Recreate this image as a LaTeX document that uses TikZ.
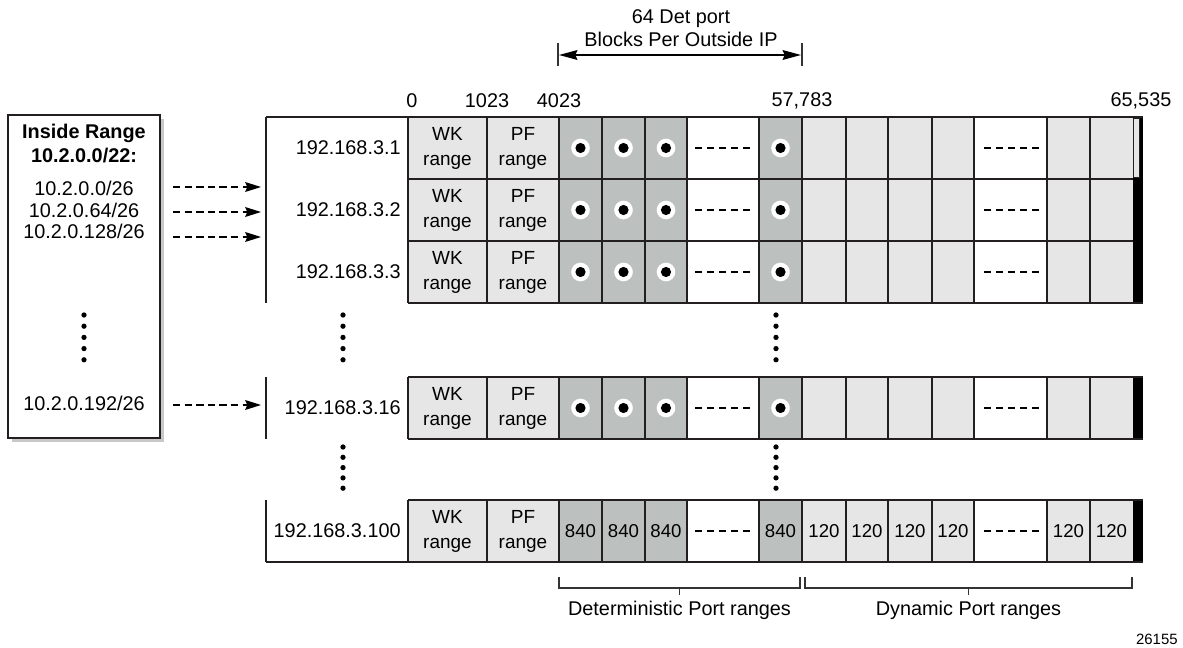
\documentclass[tikz,border=0pt]{standalone}
\usepackage{fontspec}
\setmainfont{Liberation Sans}
\usetikzlibrary{arrows.meta,positioning}

\begin{document}
\begin{tikzpicture}[
    x=0.02cm, y=-0.02cm,
    every node/.style={font=\fontsize{11.3}{13}\selectfont, inner sep=0pt},
    celltext/.style={align=center, font=\fontsize{10.8}{14.2}\selectfont},
    numtext/.style={font=\fontsize{10.6}{12}\selectfont},
    maparrow/.style={line width=0.75pt, dash pattern=on 4.2pt off 2.4pt, -{Stealth[length=9pt, width=5.6pt, inset=1.2pt]}},
    spanarrow/.style={line width=0.7pt, {Stealth[length=10.5pt, width=5.6pt, inset=1.2pt]}-{Stealth[length=10.5pt, width=5.6pt, inset=1.2pt]}},
    dashrun/.style={line width=1.5pt, dash pattern=on 4pt off 2.85pt},
    endtick/.style={line width=0.6pt, black!80},
    rimline/.style={gridline, line width=1.5pt},
  ]
    \pgfmathsetmacro{\rowh}{62}
    \definecolor{lightcell}{HTML}{E6E6E6}
    \definecolor{detcell}{HTML}{BCC1BF}
    \definecolor{gridline}{HTML}{231F20}
    \definecolor{shadowgray}{HTML}{C8C8C8}

    \useasboundingbox (0,0) rectangle (1183,648);

    % one row of the port table: #1 = top y, #2 = row tag, #3 = outside IP
    \newcommand{\portrow}[3]{%
      \foreach \xa/\xb/\col in {408/487/lightcell, 487/559/lightcell, 559/602/detcell, 602/645/detcell, 645/687/detcell, 687/759/white, 759/802/detcell, 802/846/lightcell, 846/888/lightcell, 888/932/lightcell, 932/974/lightcell, 974/1047/white, 1047/1090/lightcell, 1090/1133/lightcell} {
        \fill[\col] (\xa,#1) rectangle (\xb,#1+\rowh);
        \draw[gridline, line width=0.75pt] (\xa,#1) -- (\xa,#1+\rowh);
      }
      \fill[black] (1133,#1) rectangle (1143,#1+\rowh);
      \node[anchor=east] (ip#2) at (401,#1+\rowh/2) {#3};
      \node[celltext] (wk#2) at (447.5,#1+\rowh/2) {WK\\range};
      \node[celltext] (pf#2) at (523,#1+\rowh/2) {PF\\range};
      \draw[dashrun] (695,#1+\rowh/2) -- (751,#1+\rowh/2);
      \draw[dashrun] (984,#1+\rowh/2) -- (1040,#1+\rowh/2);
    }
    % marked deterministic blocks: #1 = row centre y
    \newcommand{\detdots}[1]{%
      \foreach \xc in {580.5, 623.5, 666, 780.5} {
        \fill[white] (\xc,#1) circle (5.3pt);
        \fill[black] (\xc,#1) circle (2.9pt);
      }
    }

    % -------- inside range box --------
    \fill[shadowgray] (12,119) rectangle (164,442);
    \draw[gridline, fill=white, line width=1.2pt] (8,115) rectangle (160,438);
    \node[font=\bfseries\fontsize{11.3}{13}\selectfont] (intitle) at (84,133) {Inside Range};
    \node[font=\bfseries\fontsize{11.3}{13}\selectfont] (inrange) at (84,156) {10.2.0.0/22:};
    \node (sub0) at (84,188) {10.2.0.0/26};
    \node (sub64) at (84,210) {10.2.0.64/26};
    \node (sub128) at (84,231) {10.2.0.128/26};
    \node (sub192) at (84,403) {10.2.0.192/26};

    % mapping arrows
    \foreach \nm/\yy in {a/187, b/212, c/237, d/405} {
      \coordinate (from\nm) at (173,\yy);
      \coordinate (to\nm) at (261,\yy);
      \draw[maparrow] (from\nm) -- (to\nm);
    }

    % -------- port numbers and block span --------
    \node (p0) at (412,101) {0};
    \node (p1023) at (487,101) {1023};
    \node (p4023) at (559,101) {4023};
    \node (p57783) at (802,101) {57,783};
    \node (p65535) at (1141,101) {65,535};

    \draw[endtick] (558,43) -- (558,66);
    \draw[endtick] (802,43) -- (802,66);
    \coordinate (spanL) at (559,55);
    \coordinate (spanR) at (801,55);
    \draw[spanarrow] (spanL) -- (spanR);
    \node[align=center] (spanlabel) at (681,28.5) {64 Det port\\Blocks Per Outside IP};

    % -------- rows 192.168.3.1 to 192.168.3.3 --------
    \portrow{117}{r1}{192.168.3.1}
    \portrow{179}{r2}{192.168.3.2}
    \portrow{241}{r3}{192.168.3.3}
    \detdots{148}
    \detdots{210}
    \detdots{272}
    \draw[gridline, line width=1pt] (408,179) -- (1133,179);
    \draw[gridline, line width=1pt] (408,241) -- (1133,241);
    \filldraw[fill=lightcell, draw=gridline, line width=0.5pt] (1133.6,118.5) rectangle (1139.5,177.5);
    \draw[rimline] (266,117) -- (1143,117);
    \draw[rimline] (408,303) -- (1143,303);
    \draw[gridline, line width=1.3pt] (266,117) -- (266,303);

    % -------- row 192.168.3.16 --------
    \portrow{377}{r16}{192.168.3.16}
    \detdots{408}
    \draw[rimline] (408,377) -- (1143,377);
    \draw[rimline] (408,439) -- (1143,439);
    \draw[gridline, line width=1.3pt] (266,377) -- (266,439);

    % -------- row 192.168.3.100 --------
    \portrow{500}{r100}{192.168.3.100}
    \foreach \xc [count=\i] in {580.5, 623.5, 666, 780.5}
      \node[numtext] (det\i) at (\xc,531) {840};
    \foreach \xc [count=\i] in {824, 867, 910, 953, 1068.5, 1111.5}
      \node[numtext] (dyn\i) at (\xc,531) {120};
    \draw[rimline] (408,500) -- (1143,500);
    \draw[rimline] (266,562) -- (1143,562);
    \draw[gridline, line width=1.3pt] (266,500) -- (266,562);

    % vertical ellipses
    \foreach \xc/\ya/\dd in {84/315/11.2, 343/315/11.2, 776/315/11.2, 343/447/10.3, 776/447/10.3} {
      \foreach \k in {0,...,4}
        \fill (\xc,\ya+\k*\dd) circle (1.5pt);
    }

    % -------- range brackets --------
    \draw[endtick] (559,577) -- (559,588) -- (800,588) -- (800,577);
    \draw[endtick] (679.5,588) -- (679.5,595);
    \node (detlabel) at (679.5,610) {Deterministic Port ranges};
    \draw[endtick] (805,577) -- (805,588) -- (1132,588) -- (1132,577);
    \draw[endtick] (968.5,588) -- (968.5,595);
    \node (dynlabel) at (968.5,610) {Dynamic Port ranges};
    \node[font=\fontsize{8.5}{10}\selectfont, anchor=east] (fignum) at (1178,639) {26155};
\end{tikzpicture}
\end{document}
